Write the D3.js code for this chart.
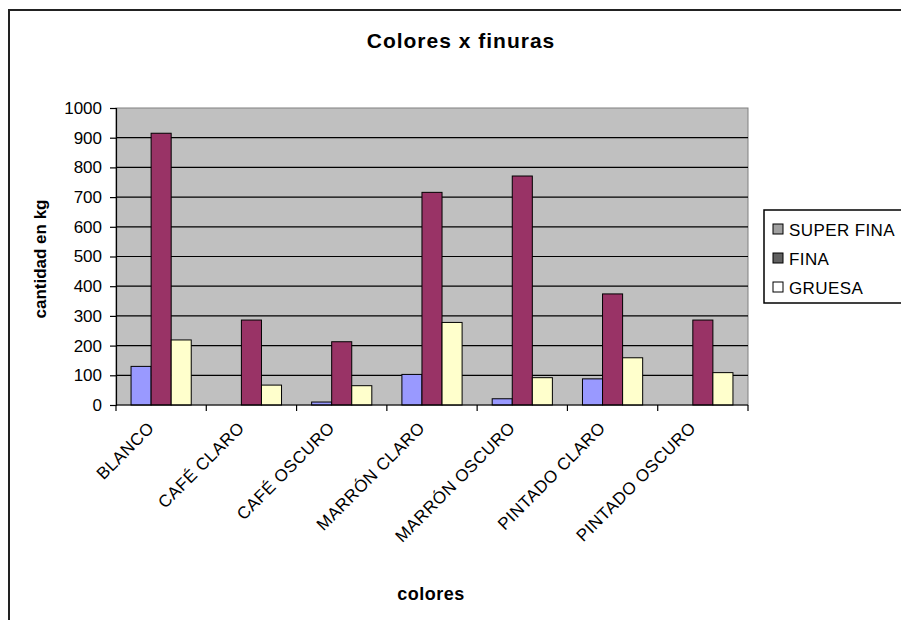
<!DOCTYPE html>
<html>
<head>
<meta charset="utf-8">
<script src="https://cdn.jsdelivr.net/npm/d3@7"></script>
<style>
    body { margin: 0; background: #fff; }
    svg { display: block; font-family: "Liberation Sans", Arial, sans-serif; }
</style>
</head>
<body>
<div id="chart"></div>
<script>
    // data
    var categories = ["BLANCO", "CAFÉ CLARO", "CAFÉ OSCURO", "MARRÓN CLARO", "MARRÓN OSCURO", "PINTADO CLARO", "PINTADO OSCURO"];
    var seriesNames = ["SUPER FINA", "FINA", "GRUESA"];
    var superFina = [130, 0, 10, 103, 21, 88, 0];
    var fina = [915, 286, 213, 716, 771, 374, 286];
    var gruesa = [219, 67, 65, 278, 92, 159, 109];
    var yTicks = [0, 100, 200, 300, 400, 500, 600, 700, 800, 900, 1000];

    var seriesValues = [superFina, fina, gruesa];
    var barColors = ["#9999FF", "#993366", "#FFFFCC"];
    var legendColors = ["#a0a0a0", "#606060", "#ffffff"];

    var width = 901,
        height = 620;
    var plot = { left: 116, right: 748, top: 108, bottom: 405 };

    var svg = d3.select("#chart")
        .append("svg")
        .attr("width", width)
        .attr("height", height);

    // chart area border (runs off the right and bottom edges)
    svg.append("rect")
        .attr("x", 9)
        .attr("y", 10)
        .attr("width", 1000)
        .attr("height", 700)
        .attr("fill", "#fff")
        .attr("stroke", "#222")
        .attr("stroke-width", 2);

    var x = d3.scaleBand()
        .domain(categories)
        .range([plot.left, plot.right])
        .paddingInner(1 / 3)
        .paddingOuter(1 / 6);

    var xSeries = d3.scaleBand()
        .domain(seriesNames)
        .range([0, x.bandwidth()]);

    var y = d3.scaleLinear()
        .domain([0, 1000])
        .range([plot.bottom, plot.top]);

    // plot background
    svg.append("rect")
        .attr("x", plot.left)
        .attr("y", plot.top)
        .attr("width", plot.right - plot.left)
        .attr("height", plot.bottom - plot.top)
        .attr("fill", "#c0c0c0")
        .attr("stroke", "#808080");

    // gridlines
    svg.append("g")
        .selectAll("line")
        .data(yTicks.filter(function (d) { return d > 0 && d < 1000; }))
        .enter().append("line")
        .attr("x1", plot.left)
        .attr("x2", plot.right)
        .attr("y1", function (d) { return y(d); })
        .attr("y2", function (d) { return y(d); })
        .attr("stroke", "#000")
        .attr("stroke-width", 1.2);

    // bars
    var groups = svg.append("g")
        .selectAll("g")
        .data(categories)
        .enter().append("g")
        .attr("transform", function (d) { return "translate(" + x(d) + ",0)"; });

    groups.selectAll("rect")
        .data(function (d, i) {
            return seriesNames.map(function (s, j) {
                return { series: s, value: seriesValues[j][i], color: barColors[j] };
            });
        })
        .enter().append("rect")
        .filter(function (d) { return d.value > 0; })
        .attr("x", function (d) { return xSeries(d.series); })
        .attr("y", function (d) { return y(d.value); })
        .attr("width", xSeries.bandwidth())
        .attr("height", function (d) { return plot.bottom - y(d.value); })
        .attr("fill", function (d) { return d.color; })
        .attr("stroke", "#000")
        .attr("stroke-width", 1);

    // y axis
    var yAxis = svg.append("g")
        .attr("transform", "translate(" + plot.left + ",0)")
        .call(d3.axisLeft(y).tickValues(yTicks).tickFormat(d3.format("d")).tickSize(6).tickPadding(8));
    yAxis.select(".domain").attr("stroke", "#000").attr("stroke-width", 1.2);
    yAxis.selectAll(".tick line").attr("stroke", "#000").attr("stroke-width", 1.2);
    yAxis.selectAll(".tick text")
        .attr("fill", "#000")
        .style("font-size", "17px")
        .style("font-family", "Liberation Sans, Arial, sans-serif");

    // x axis with ticks at category boundaries
    var xAxis = svg.append("g")
        .attr("transform", "translate(0," + plot.bottom + ")");
    xAxis.append("line")
        .attr("x1", plot.left)
        .attr("x2", plot.right)
        .attr("stroke", "#000")
        .attr("stroke-width", 1.2);
    var step = x.step();
    xAxis.selectAll(".xtick")
        .data(d3.range(categories.length + 1))
        .enter().append("line")
        .attr("class", "xtick")
        .attr("x1", function (i) { return plot.left + i * step; })
        .attr("x2", function (i) { return plot.left + i * step; })
        .attr("y1", 0)
        .attr("y2", 6)
        .attr("stroke", "#000")
        .attr("stroke-width", 1.2);

    // rotated category labels
    svg.append("g")
        .selectAll("text")
        .data(categories)
        .enter().append("text")
        .attr("transform", function (d) {
            var cx = x(d) + x.bandwidth() / 2 - 6;
            return "translate(" + cx + ",429) rotate(-45)";
        })
        .attr("text-anchor", "end")
        .style("font-size", "17px")
        .style("letter-spacing", "0.5px")
        .text(function (d) { return d; });

    // titles
    svg.append("text")
        .attr("x", 461)
        .attr("y", 48)
        .attr("text-anchor", "middle")
        .style("font-size", "21px")
        .style("font-weight", "bold")
        .style("letter-spacing", "1px")
        .text("Colores x finuras");

    svg.append("text")
        .attr("x", 431)
        .attr("y", 600)
        .attr("text-anchor", "middle")
        .style("font-size", "18px")
        .style("font-weight", "bold")
        .style("letter-spacing", "0.5px")
        .text("colores");

    svg.append("text")
        .attr("transform", "translate(46,259) rotate(-90)")
        .attr("text-anchor", "middle")
        .style("font-size", "17px")
        .style("font-weight", "bold")
        .text("cantidad en kg");

    // legend
    var legend = svg.append("g");
    legend.append("rect")
        .attr("x", 764)
        .attr("y", 210)
        .attr("width", 200)
        .attr("height", 93)
        .attr("fill", "#fff")
        .attr("stroke", "#000")
        .attr("stroke-width", 1.5);

    var items = legend.selectAll(".item")
        .data(seriesNames)
        .enter().append("g")
        .attr("class", "item")
        .attr("transform", function (d, i) { return "translate(0," + (i * 29) + ")"; });

    items.append("rect")
        .attr("x", 773)
        .attr("y", 224)
        .attr("width", 10)
        .attr("height", 10)
        .attr("fill", function (d, i) { return legendColors[i]; })
        .attr("stroke", "#000")
        .attr("stroke-width", 1);

    items.append("text")
        .attr("x", 789)
        .attr("y", 236)
        .style("font-size", "17px")
        .style("letter-spacing", "0.4px")
        .text(function (d) { return d; });
</script>
</body>
</html>
